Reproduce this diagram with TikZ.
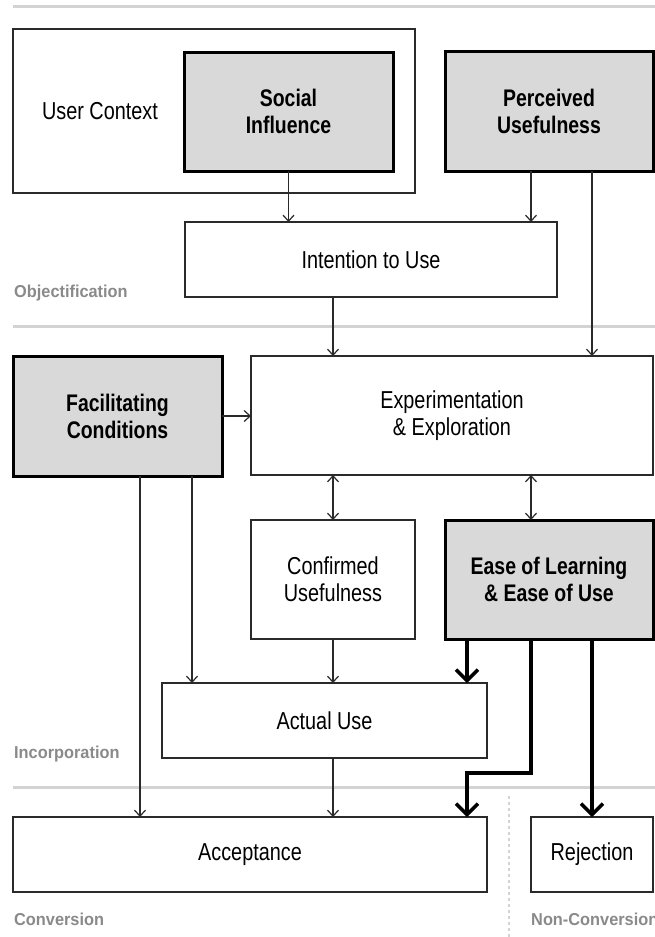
\documentclass[tikz,border=0pt]{standalone}
\usepackage{fontspec}
\setmainfont{Liberation Sans}[FakeStretch=0.81]
\newfontfamily\labfont{Liberation Sans}[FakeStretch=0.95]
\usetikzlibrary{arrows.meta,calc}
\definecolor{boxfill}{HTML}{D9D9D9}
\definecolor{sepgray}{HTML}{D3D3D3}
\definecolor{labgray}{HTML}{8A8A8A}
\definecolor{linecol}{HTML}{2A2A2A}
\begin{document}
\begin{tikzpicture}[x=1pt,y=-1pt,
  thinbox/.style={draw=linecol, line width=1.3pt, fill=white, inner sep=0pt, outer sep=0pt, align=center, font=\fontsize{24.5}{27}\selectfont},
  thickbox/.style={draw=black, line width=3pt, fill=boxfill, inner sep=0pt, outer sep=0pt, align=center, font=\fontsize{24}{27}\selectfont\bfseries},
  plain/.style={inner sep=0pt, align=center, font=\fontsize{24.5}{27}\selectfont},
  phase/.style={text=labgray, font=\labfont\fontsize{17.2}{20}\selectfont\bfseries, anchor=base west, inner sep=0pt},
  sepline/.style={draw=sepgray, line width=3pt},
  arr/.style={draw=linecol, line width=1.2pt, -{Straight Barb[length=6pt,width=11pt]}},
  darr/.style={draw=linecol, line width=1.2pt, {Straight Barb[length=6pt,width=11pt]}-{Straight Barb[length=6pt,width=11pt]}},
  bigarr/.style={draw=black, line width=3.5pt, -{Straight Barb[length=11pt,width=22pt]}},
]
\useasboundingbox (0,0) rectangle (654,937);
\fill[white] (0,0) rectangle (654,937);

% separators
\coordinate (s1a) at (13,6);   \coordinate (s1b) at (660,6);
\coordinate (s2a) at (13,326); \coordinate (s2b) at (660,326);
\coordinate (s3a) at (13,787); \coordinate (s3b) at (660,787);
\coordinate (d1) at (509,796); \coordinate (d2) at (509,940);
\draw[sepline] (s1a) -- (s1b);
\draw[sepline] (s2a) -- (s2b);
\draw[sepline] (s3a) -- (s3b);
\draw[draw=sepgray, line width=1.5pt, dash pattern=on 3pt off 3pt] (d1) -- (d2);

% boxes
\node[thinbox, minimum width=402pt, minimum height=164pt] (uc) at (214,111) {};
\node[plain] (uctext) at (100,111) {User Context};
\node[thickbox, minimum width=209pt, minimum height=119pt] (si) at (288.5,111.5) {Social\\Influence};
\node[thickbox, minimum width=208pt, minimum height=120pt] (pu) at (549,111) {Perceived\\Usefulness};
\node[thinbox, minimum width=372pt, minimum height=75pt] (intent) at (371,259.5) {Intention to Use};
\node[thickbox, minimum width=209pt, minimum height=120pt] (fc) at (117.5,416) {Facilitating\\Conditions};
\node[thinbox, minimum width=402pt, minimum height=119pt] (exp) at (452,415.5) {Experimentation\\\& Exploration};
\node[thinbox, minimum width=164pt, minimum height=119pt] (cu) at (333,579.5) {Confirmed\\Usefulness};
\node[thickbox, minimum width=208pt, minimum height=119pt] (ease) at (549,579.5) {Ease of Learning\\\& Ease of Use};
\node[thinbox, minimum width=325pt, minimum height=75pt] (au) at (324.5,720.5) {Actual Use};
\node[thinbox, minimum width=474pt, minimum height=75pt] (acc) at (250,854.5) {Acceptance};
\node[thinbox, minimum width=122pt, minimum height=75pt] (rej) at (592,854.5) {Rejection};

% phase labels
\node[phase] (l1) at (14,297) {Objectification};
\node[phase] (l2) at (14,758) {Incorporation};
\node[phase] (l3) at (14,925) {Conversion};
\node[phase] (l4) at (531,925) {Non-Conversion};

% column coordinates
\coordinate (xA) at (140,0);
\coordinate (xB) at (192,0);
\coordinate (xC) at (333,0);
\coordinate (xD) at (467,0);
\coordinate (xE) at (531,0);
\coordinate (xF) at (592,0);
\coordinate (bend) at (531,773);

% connectors
\draw[arr] (si.south) -- (si.south |- intent.north);
\draw[arr] (xE |- pu.south) -- (xE |- intent.north);
\draw[arr] (xF |- pu.south) -- (xF |- exp.north);
\draw[arr] (xC |- intent.south) -- (xC |- exp.north);
\draw[arr] (fc.east) -- (fc.east -| exp.west);
\draw[darr] (xC |- exp.south) -- (xC |- cu.north);
\draw[darr] (xE |- exp.south) -- (xE |- ease.north);
\draw[arr] (xA |- fc.south) -- (xA |- acc.north);
\draw[arr] (xB |- fc.south) -- (xB |- au.north);
\draw[arr] (cu.south) -- (cu.south |- au.north);
\draw[arr] (xC |- au.south) -- (xC |- acc.north);
\draw[bigarr] (xD |- ease.south) -- (xD |- au.north);
\draw[bigarr, line join=miter] (xE |- ease.south) -- (bend) -| (xD |- acc.north);
\draw[bigarr] (xF |- ease.south) -- (xF |- rej.north);
\end{tikzpicture}
\end{document}
